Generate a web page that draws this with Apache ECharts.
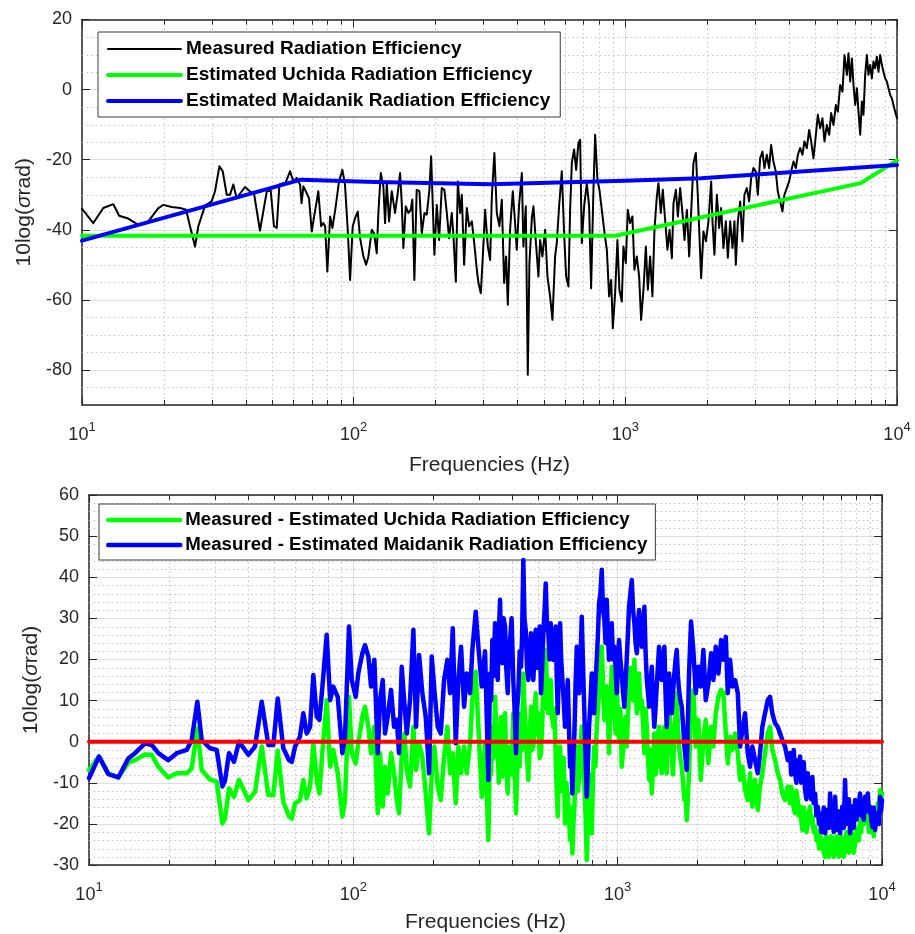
<!DOCTYPE html>
<html>
<head>
<meta charset="utf-8">
<title>Radiation efficiency</title>
<script src="https://cdn.jsdelivr.net/npm/echarts@6/dist/echarts.min.js"></script>
<style>
  html, body { margin: 0; padding: 0; background: #ffffff; }
  #chart { width: 915px; height: 934px; }
</style>
</head>
<body>
<div id="chart"></div>
<script>
// Measured radiation efficiency, [frequency (Hz), 10log(sigma_rad) (dB)]
const measured = [
  [10,-34.0],[11.0,-38.1],[11.98,-33.8],[13.04,-32.7],[13.7,-36.0],[14.69,-36.7],[16.12,-38.6],[17.54,-37.6],
  [19.1,-33.8],[19.93,-32.9],[21.4,-33.5],[22.96,-33.8],[24.15,-34.3],[24.98,-39.0],[26.07,-44.8],[26.8,-39.0],
  [28.37,-33.1],[30.0,-31.9],[30.88,-29.0],[32.04,-21.9],[32.96,-23.3],[34.1,-30.0],[35.07,-30.0],[36.06,-27.1],
  [37.1,-31.0],[39.8,-27.8],[42.15,-29.5],[42.9,-29.3],[45.2,-40.2],[47.9,-29.0],[49.5,-28.8],[50.9,-39.0],
  [52.1,-39.5],[53.3,-27.1],[55.1,-26.7],[56.1,-26.7],[58.3,-23.3],[59.2,-22.9],[60.0,-26.2],[61.7,-25.2],
  [63.5,-27.2],[64.3,-32.4],[65.3,-27.6],[67.1,-29.5],[68.5,-31.0],[70.1,-40.5],[71.7,-35.7],[73.1,-31.9],
  [74.1,-29.0],[75.9,-39.0],[77.35,-38.1],[78.5,-39.0],[80.0,-51.9],[81.9,-36.2],[83.5,-39.5],[85.9,-33.3],
  [88.3,-26.2],[90.9,-22.9],[92.9,-27.1],[95.1,-40.0],[97.0,-54.3],[99.2,-39.0],[101.2,-36.7],[103.5,-34.8],
  [105.6,-42.4],[108.6,-47.6],[111.1,-50.0],[113.3,-47.6],[116.6,-40.0],[118.9,-41.0],[121.6,-46.7],[123.3,-35.2],
  [125.8,-23.8],[128.6,-27.6],[130.5,-38.1],[132.4,-26.7],[135.0,-37.6],[138.1,-29.0],[142.0,-35.2],[145.3,-29.5],
  [148.2,-23.8],[150.3,-32.4],[152.4,-45.2],[155.5,-33.3],[159.0,-35.2],[162.2,-34.3],[164.4,-31.4],[167.3,-54.3],
  [170.6,-28.6],[174.6,-29.0],[178.1,-41.0],[182.2,-35.2],[185.8,-35.7],[190.0,-28.6],[192.8,-19.0],[195.6,-33.3],
  [198.2,-47.1],[202.3,-32.9],[206.3,-42.9],[211.0,-28.1],[215.8,-28.6],[220.2,-35.2],[224.5,-42.4],[229.7,-35.2],
  [233.0,-41.9],[237.7,-54.8],[241.8,-26.2],[246.6,-35.2],[250.1,-30.0],[255.0,-50.0],[260.9,-33.8],[266.1,-39.0],
  [272.3,-37.6],[278.3,-44.3],[284.0,-51.4],[288.0,-55.2],[293.8,-58.1],[298.8,-47.6],[304.7,-34.3],[311.8,-44.8],
  [317.9,-48.6],[322.5,-30.5],[329.6,-18.1],[336.4,-35.2],[344.0,-39.0],[351.0,-31.4],[357.9,-55.2],[364.0,-47.6],
  [369.3,-61.4],[376.5,-40.0],[385.2,-29.0],[392.8,-38.1],[398.5,-45.7],[406.4,-32.9],[415.9,-23.8],[421.5,-44.8],
  [430.1,-33.3],[437.5,-81.4],[443.6,-49.5],[452.6,-36.7],[458.9,-33.3],[468.3,-43.3],[478.7,-53.3],[485.7,-42.9],
  [495.3,-47.6],[506.7,-40.0],[516.8,-53.3],[528.5,-59.0],[539.1,-65.7],[551.4,-47.6],[559.4,-43.8],[570.5,-33.3],
  [583.6,-23.3],[595.2,-41.0],[605.3,-53.3],[617.4,-56.2],[626.3,-34.3],[635.3,-21.0],[647.8,-17.1],[659.0,-22.9],
  [671.9,-15.2],[681.7,-14.3],[691.5,-43.8],[705.2,-33.3],[721.4,-26.7],[735.7,-33.3],[748.2,-56.7],[763.1,-28.6],
  [774.2,-12.9],[789.5,-25.7],[803.0,-28.6],[819.4,-34.3],[835.6,-40.0],[854.9,-45.7],[871.8,-59.0],[886.6,-54.3],
  [899.5,-68.1],[917.1,-58.1],[935.2,-42.9],[951.1,-57.1],[970.5,-60.5],[984.0,-44.8],[1004,-49.5],[1021,-34.3],
  [1041,-38.1],[1062,-36.2],[1080,-51.4],[1102,-47.6],[1124,-53.3],[1143,-65.7],[1166,-57.1],[1190,-44.8],
  [1210,-57.1],[1234,-47.6],[1258,-59.0],[1280,-40.0],[1306,-30.5],[1324,-26.7],[1351,-35.2],[1374,-28.6],
  [1401,-37.1],[1429,-45.7],[1454,-40.0],[1484,-48.1],[1504,-32.4],[1535,-28.6],[1561,-36.2],[1591,-28.1],
  [1623,-35.2],[1651,-42.9],[1685,-34.3],[1718,-47.6],[1747,-35.2],[1781,-21.0],[1818,-18.1],[1849,-30.5],
  [1901,-53.8],[1939,-40.5],[1979,-43.3],[2023,-37.6],[2070,-26.2],[2093,-37.6],[2128,-47.1],[2172,-30.0],
  [2215,-39.5],[2252,-33.8],[2297,-45.2],[2344,-37.6],[2384,-48.0],[2432,-37.6],[2480,-45.2],[2522,-37.6],
  [2551,-50.0],[2595,-37.6],[2647,-31.9],[2698,-43.3],[2744,-30.0],[2800,-28.1],[2856,-31.9],[2905,-25.3],
  [2962,-22.4],[3023,-23.4],[3074,-30.0],[3135,-19.6],[3197,-17.7],[3251,-22.4],[3317,-18.6],[3383,-22.4],
  [3440,-15.8],[3508,-20.5],[3580,-23.4],[3641,-29.1],[3713,-31.9],[3786,-34.8],[3851,-30.0],[3929,-28.1],
  [4009,-26.2],[4077,-23.4],[4158,-20.5],[4243,-22.4],[4315,-18.6],[4400,-16.7],[4487,-18.6],[4563,-14.8],
  [4657,-16.7],[4749,-11.5],[4831,-14.8],[4926,-19.6],[5027,-12.9],[5113,-7.2],[5214,-11.0],[5316,-8.2],
  [5408,-14.8],[5518,-10.1],[5627,-12.9],[5723,-6.7],[5837,-10.1],[5957,-4.4],[6058,-6.3],[6178,1.3],
  [6300,-0.6],[6408,9.9],[6539,4.2],[6629,10.4],[6726,2.3],[6823,8.9],[6916,1.3],[7016,-4.4],
  [7118,0.4],[7215,-6.3],[7320,-12.9],[7425,-3.4],[7526,-7.2],[7636,4.2],[7746,9.9],[7852,4.2],
  [7966,7.0],[8081,3.2],[8191,8.0],[8311,6.1],[8431,9.4],[8547,5.1],[8672,9.9],[8797,7.0],
  [8917,5.1],[9046,3.2],[9177,2.3],[9302,0.4],[9437,-1.5],[9574,-2.5],[9705,-4.4],[9847,-6.3],[10000,-8.2]
];

// Estimated radiation efficiency models (breakpoints)
const uchida = [[10,-41.7],[920,-41.7],[7360,-26.7],[10000,-20.2]];
const maidanik = [[10,-43.1],[64,-25.7],[120,-26.4],[320,-27.0],[1000,-26.0],[1900,-25.3],[10000,-21.5]];

// Differences between measured and estimated efficiency (dB)
const uchidaDelta = [
  [10,-6.9],[10.91,-3.6],[11.83,-7.7],[12.91,-8.7],[14.08,-5.1],[14.93,-4.5],[16.29,-3.1],[17.27,-3.2],
  [18.29,-6.1],[19.93,-8.7],[21.47,-7.7],[23.43,-7.7],[24.46,-6.5],[25.7,3.2],[26.69,-6.9],[28.69,-9.2],
  [30.42,-9.7],[31.95,-19.9],[32.7,-18.7],[33.86,-11.4],[35.37,-13.4],[36.94,-9.3],[40.06,-14.2],[42.47,-12.2],
  [45.02,-1.2],[47.7,-13.0],[49.82,-13.0],[51.76,-2.2],[54.33,-14.6],[57.1,-18.2],
  [58.5,-18.7],[60.2,-15.0],[62.8,-14.2],[64.7,-9.3],[66.6,-13.8],[68.6,-10.9],[70.6,-0.4],[72.7,-9.3],
  [74.4,-12.6],[76.3,-2.8],[79.3,10.1],[81.7,-6.1],[84.0,-2.0],[87.3,-7.7],[90.9,-18.2],[93.0,-14.2],
  [96.3,10.9],[98.6,-2.8],[102.1,-5.3],[104.4,-0.4],[108.2,6.1],[110.7,8.5],[114.0,3.6],[116.7,-2.8],
  [120.1,3.6],[123.7,-17.4],[126.2,-2.8],[129.2,-15.8],[131.8,-6.1],[134.9,-12.6],[138.9,-2.8],[142.6,-7.7],
  [146.0,-14.2],[148.9,-17.4],[152.4,-3.6],[156.0,2.0],[159.3,-6.9],[163.9,-10.9],[168.7,3.6],[172.7,-6.9],
  [177.3,-0.4],[182.4,-3.6],[187.9,-12.6],[193.4,-22.3],[198.0,-7.7],[202.6,-1.2],[208.6,-10.9],[214.2,-14.2],
  [220.4,-3.6],[226.9,3.6],[232.3,-7.7],[237.8,-2.8],[244.0,-15.0],[249.7,-1.2],[255.6,-7.7],[262.4,-1.2],
  [268.5,-7.7],[276.4,-0.4],[282.0,10.1],[290.4,17.0],[297.2,3.6],[306.1,-13.4],[315.0,-0.4],[324.2,-23.9],
  [329,-1.2],[332,-8],[335.7,3.6],[339.5,-4],[343.6,10.9],[347.5,2],[351.8,-1.2],[355,-10],
  [358.9,2.0],[362.5,6],[366.2,-8.5],[370.5,-2],[374.9,6.9],[379,-6],[383.8,-12.6],[387.5,-4],
  [391.5,-1.2],[397,-8],[402.9,6.9],[407.5,-6],[412.5,-17.4],[416.5,-8],[420.9,0.4],[426,-6],
  [430.9,6.9],[435,-2],[439.6,16.6],[444,8],[448.9,3.6],[454,-4],[459.2,-9.3],[464.5,0],
  [470.1,8.5],[475,-2],[479.7,-1.2],[484.5,6],[489.8,11.8],[495,2],[501.0,6.9],[507,-4],
  [512.9,-2.8],[518,4],[523.3,13.4],[529,8],[534.4,22.3],[540.5,12],[546.7,6.9],[552.5,12],
  [558.3,15.0],[564.5,6],[571.1,3.6],[577,8],[583.2,-4.5],[588,-12],[593.4,-18.2],[599.5,-6],
  [605.5,-1.2],[611.5,-12],[617.8,-9.3],[625,-4],[632.4,-19.9],[640,-10],[647.5,-12.6],[654,-18],
  [660.7,-23.9],[667,-16],[674.1,-27.2],[680,-20],[686,-15.8],[693,-8],[700.4,-1.2],[707,-12],
  [714.5,-9.3],[723,-2],[731.5,3.6],[740,-4],[748.3,-10.9],[756,-18],[764.0,-28.8],[771.5,-20],
  [779.5,-14.2],[789,-8],[798.0,-22.3],[806,-10],[814.2,-1.2],[824,-6],[833.5,3.6],[842,8],
  [850.4,11.8],[860,18],[870.6,23.1],[880.5,14],[890.6,5.3],[900,10],[909.4,13.4],[918.5,6],
  [927.7,-2.8],[938.5,8],[949.7,18.2],[960.5,6],[971.6,8.5],[982,2],[992.1,15.0],[1002,6],
  [1012,0.4],[1024,8],[1036,-6.1],[1048,-2],[1060,3.6],[1071,6],[1082,-1.2],[1093,6],
  [1104,11.8],[1117,18],[1131,15.0],[1144,10],[1157,19.9],[1169,12],[1182,6.9],[1193,12],
  [1205,16.6],[1219,8],[1234,10.1],[1248,4],[1262,-2.8],[1275,8],[1289,3.6],[1302,-4],
  [1315,-9.3],[1330,-2],[1346,-12.6],[1361,-6],[1376,2.0],[1390,-8],[1405,-6.1],[1419,2],
  [1434,3.6],[1451,-4],[1468,-7.7],[1485,0],[1502,3.6],[1517,-6],[1533,-7.7],[1549,2],
  [1565,10.1],[1583,2],[1602,-2.8],[1620,-8],[1639,3.6],[1656,6],[1673,11.8],[1690,4],
  [1707,-1.2],[1727,-4],[1748,-6.1],[1768,-10],[1788,-14.2],[1807,-12],
  [1826,-19.1],[1862,-7.7],[1895,10.9],[1933,12.6],[1974,-1.2],[2020,5.3],[2062,-9.3],[2110,0.4],
  [2154,5.3],[2204,-5.3],[2257,3.6],[2302,-1.2],[2350,6.9],[2405,10.9],[2462,12.6],[2512,11.8],
  [2565,2.0],[2609,-5.3],[2662,1.2],[2716,-2.0],[2781,2.0],[2847,-2.8],[2905,-9.3],[2963,-6.1],
  [3034,-11.8],[3106,-14.2],[3169,-7.7],[3232,-15.8],[3309,-9.3],[3388,-16.6],[3456,-10.9],[3526,-7.7],
  [3610,-2.8],[3696,2.0],[3771,3.6],[3847,-2.0],[3939,-4.5],[4033,-7.7],[4115,-9.3],[4198,-12.6],
  [4298,-14.2],[4400,-10.9],
  [4489,-15.0],[4534,-11],[4580,-12.6],[4635,-16],[4690,-17.4],[4745,-12],[4801,-14.2],[4850,-18],
  [4898,-15.8],[4947,-19],[4997,-21.5],[5057,-16],[5117,-18.2],[5177,-22],[5238,-19.9],[5291,-17],
  [5344,-15.8],[5398,-20],[5452,-18.2],[5517,-22],[5582,-20.7],[5648,-24],[5715,-22.3],[5773,-26],
  [5831,-21.5],[5890,-26],[5949,-23.9],[6020,-27],[6091,-28.0],[6163,-23],[6235,-24.7],[6298,-28],
  [6362,-27.6],[6426,-23],[6491,-24.7],[6568,-28],[6645,-27.2],[6724,-23],[6803,-24.7],[6872,-28],
  [6941,-26.8],[7011,-23],[7081,-24.3],[7165,-28],[7249,-26.4],[7335,-22],[7421,-23.9],[7496,-27],
  [7571,-26.0],[7647,-22],[7724,-23.9],[7817,-27],[7910,-24.7],[8004,-21],[8098,-20.7],[8180,-24],
  [8262,-19.1],[8345,-22],[8429,-16.6],[8529,-20],[8630,-17.4],[8732,-15],[8835,-18.2],[8924,-22],
  [9014,-19.9],[9105,-17],[9196,-20.7],[9305,-23],[9414,-18.2],[9526,-20],[9638,-15.0],[9735,-17],
  [9833,-11.8],[9916,-14],[10000,-12.6]
];

const maidanikDelta = [
  [10,-8.9],[10.91,-3.6],[11.83,-7.9],[12.91,-8.7],[14.08,-4.1],[14.93,-2.8],[16.29,-0.4],[17.27,-0.8],
  [18.29,-2.8],[19.93,-4.5],[21.47,-2.8],[23.43,-2.0],[24.46,0.4],[25.7,9.7],[26.69,0.4],[28.69,-1.6],
  [30.42,-2.0],[31.95,-10.9],[32.7,-9.5],[33.86,-2.8],[35.37,-4.9],[36.94,0.0],[40.06,-3.2],[42.47,-1.2],
  [45.02,9.7],[47.7,-0.8],[49.82,-0.8],[51.76,10.5],[54.33,-1.6],[57.1,-4.5],
  [58.5,-4.9],[60.2,-1.2],[62.8,1.2],[64.7,6.9],[66.6,2.0],[68.6,3.6],[70.6,16.2],[72.7,6.1],
  [74.4,5.3],[76.3,13.0],[79.3,26.0],[81.7,10.1],[84.0,13.4],[87.3,10.9],[90.9,-2.8],[93.0,1.2],
  [96.3,28.0],[98.6,15.0],[102.1,10.9],[104.4,16.6],[108.2,21.5],[110.7,23.5],[114.0,20.7],[116.7,13.4],
  [120.1,19.9],[123.7,-2.8],[126.2,10.1],[129.2,15.0],[131.8,2.0],[134.9,6.1],[138.9,12.6],[142.6,3.6],
  [146.0,5.3],[148.9,-2.8],[152.4,18.2],[156.0,9.3],[159.3,2.0],[163.9,10.1],[168.7,27.2],[172.7,3.6],
  [177.3,21.1],[182.4,11.8],[187.9,6.1],[193.4,-7.7],[198.0,20.7],[202.6,12.6],[208.6,3.6],[214.2,2.0],
  [220.4,15.0],[226.9,19.9],[232.3,11.8],[237.8,27.6],[244.0,-0.4],[249.7,15.0],[255.6,23.1],[262.4,8.5],
  [268.5,16.6],[276.4,11.8],[282.0,22.3],[290.4,31.6],[297.2,23.1],[306.1,13.4],[315.0,22.0],[324.2,-9.3],
  [329,16.6],[332,10],[335.7,24.7],[339.5,16],[343.6,28.8],[347.5,20],[351.8,15.0],[355,26],
  [358.9,34.5],[362.5,22],[366.2,19.1],[370.5,30],[374.9,28.0],[379,18],[383.8,11.8],[387.5,22],
  [391.5,24.7],[397,30],[402.9,15.0],[407.5,8],[412.5,-2.8],[416.5,8],[420.9,11.8],[426,22],
  [430.9,18.2],[435,26],[439.6,44.2],[444,30],[448.9,27.2],[454,18],[459.2,15.0],[464.5,22],
  [470.1,26.4],[475,18],[479.7,15.0],[484.5,22],[489.8,27.2],[495,18],[501.0,21.5],[507,28],
  [512.9,11.8],[518,18],[523.3,26.4],[529,32],[534.4,38.5],[540.5,28],[546.7,26.4],[552.5,20],
  [558.3,28.8],[564.5,22],[571.1,19.9],[577,26],[583.2,28.0],[588,16],[593.4,6.9],[599.5,20],
  [605.5,28.8],[611.5,20],[617.8,15.0],[625,10],[632.4,3.6],[640,8],[647.5,15.0],[654,4],
  [660.7,-6.1],[667,-2],[674.1,-12.6],[680,-4],[686,2.0],[693,14],[700.4,23.1],[707,14],
  [714.5,11.8],[723,20],[731.5,30.4],[740,18],[748.3,6.9],[756,-4],[764.0,-13.4],[771.5,-6],
  [779.5,3.6],[789,10],[798.0,16.6],[806,10],[814.2,6.9],[824,14],[833.5,19.9],[842,26],
  [850.4,33.7],[860,36],[870.6,41.8],[880.5,32],[890.6,29.6],[900,24],[909.4,34.5],[918.5,26],
  [927.7,19.9],[938.5,24],[949.7,28.8],[960.5,20],[971.6,23.1],[982,18],[992.1,11.8],[1002,18],
  [1012,24.7],[1024,20],[1036,16.6],[1048,12],[1060,8.5],[1071,14],[1082,19.9],[1093,26],
  [1104,32.8],[1117,36],[1131,39.3],[1144,32],[1157,28.8],[1169,24],[1182,21.5],[1193,28],
  [1205,32.0],[1219,26],[1234,23.1],[1248,28],[1262,32.8],[1275,22],[1289,15.0],[1302,12],
  [1315,8.5],[1330,14],[1346,18.2],[1361,10],[1376,3.6],[1390,8],[1405,13.4],[1419,18],
  [1434,23.1],[1451,18],[1468,15.0],[1485,20],[1502,23.1],[1517,12],[1533,3.6],[1549,10],
  [1565,16.6],[1583,12],[1602,6.9],[1620,12],[1639,16.6],[1656,20],[1673,22.3],[1690,16],
  [1707,12.6],[1727,10],[1748,8.5],[1768,4],[1788,-1.2],[1807,-4],
  [1826,-6.9],[1862,16.6],[1895,29.2],[1933,22.3],[1974,11.8],[2020,18.2],[2062,13.4],[2110,22.3],
  [2154,10.1],[2204,14.2],[2257,21.5],[2302,15.0],[2350,23.1],[2405,16.6],[2462,24.7],[2512,19.9],
  [2565,25.5],[2609,11.8],[2662,19.9],[2716,13.4],[2781,15.0],[2847,11.8],[2905,-1.2],[2963,2.8],
  [3034,6.9],[3106,-2.8],[3169,-6.1],[3232,-1.2],[3309,-4.5],[3388,-7.7],[3456,-2.8],[3526,3.6],
  [3610,6.9],[3696,10.1],[3771,10.9],[3847,6.9],[3939,4.5],[4033,3.6],[4115,2.0],[4198,0.4],
  [4298,-1.2],[4400,-4.5],
  [4489,-2.8],[4534,-8],[4580,-6.1],[4635,-2],[4690,-7.7],[4745,-10],[4801,-4.5],[4850,-8],
  [4898,-3.6],[4947,-10],[4997,-9.3],[5057,-5],[5117,-11.8],[5177,-14],[5238,-7.7],[5291,-13],
  [5344,-10.9],[5398,-14],[5452,-8.6],[5517,-15],[5582,-12.6],[5648,-18],[5715,-15.8],[5773,-20],
  [5831,-17.4],[5890,-22],[5949,-20.7],[6020,-16],[6091,-22.3],[6163,-18],[6235,-16.6],[6298,-21],
  [6362,-12.6],[6426,-20],[6491,-19.1],[6568,-22],[6645,-13.4],[6724,-20],[6803,-21.5],[6872,-17],
  [6941,-22.3],[7011,-18],[7081,-15.8],[7165,-21],[7249,-9.3],[7335,-20],[7421,-18.2],[7496,-14],
  [7571,-22.3],[7647,-18],[7724,-15.8],[7817,-21],[7910,-14.2],[8004,-19],[8098,-19.1],[8180,-15],
  [8262,-12.6],[8345,-18],[8429,-15.8],[8529,-19],[8630,-13.4],[8732,-17],[8835,-12.6],[8924,-17],
  [9014,-15.8],[9105,-19],[9196,-20.7],[9305,-16],[9414,-21.5],[9526,-18],[9638,-17.4],[9735,-20],
  [9833,-13.4],[9916,-17],[10000,-14.2]
];

const zeroReference = [[10, 0], [10000, 0]];

// Axis ranges and grid subdivisions
const freqRange = [10, 10000];
const topLevelRange = [-90, 20];
const bottomLevelRange = [-30, 60];
const minorFreqs = [20,30,40,50,60,70,80,90,200,300,400,500,600,700,800,900,2000,3000,4000,5000,6000,7000,8000,9000];
const topMinorLevels = [-85,-75,-70,-65,-55,-50,-45,-35,-30,-25,-15,-10,-5,5,10,15];
const bottomMinorLevels = [-28,-26,-24,-22,-18,-16,-14,-12,-8,-6,-4,-2,2,4,6,8,12,14,16,18,
  22,24,26,28,32,34,36,38,42,44,46,48,52,54,56,58];

const FONT = "'Liberation Sans', Arial, Helvetica, sans-serif";
const INK = '#262626';
const MAJOR_GRID = '#dedede';
const MINOR_GRID = '#c2c2c2';

function freqAxis(gridIndex, position, labelMargin, nameGap) {
  const primary = position === 'bottom';
  return {
    type: 'log', logBase: 10, gridIndex, position,
    min: freqRange[0], max: freqRange[1],
    name: primary ? 'Frequencies (Hz)' : '',
    nameLocation: 'middle', nameGap: nameGap || 0,
    nameTextStyle: { fontFamily: FONT, fontSize: 21, color: INK },
    axisLine: { show: true, onZero: false, lineStyle: { color: INK, width: 1.5 } },
    axisTick: { show: true, inside: true, length: 8, lineStyle: { color: INK, width: 1 } },
    axisLabel: primary ? {
      show: true, margin: labelMargin,
      formatter: v => '{b|10}{s|' + Math.round(Math.log10(v)) + '}',
      rich: {
        b: { fontFamily: FONT, fontSize: 18, lineHeight: 18, color: INK, verticalAlign: 'bottom' },
        s: { fontFamily: FONT, fontSize: 13, lineHeight: 13, color: INK, verticalAlign: 'bottom', padding: [0, 0, 10, 0] }
      }
    } : { show: false },
    splitLine: { show: primary, lineStyle: { color: MAJOR_GRID, width: 1 } },
    minorTick: { show: false },
    minorSplitLine: { show: false }
  };
}

function levelAxis(gridIndex, position, range, interval, nameGap) {
  const primary = position === 'left';
  const axis = {
    type: 'value', gridIndex, position,
    min: range[0], max: range[1],
    name: primary ? '10log({i|σ}rad)' : '',
    nameLocation: 'middle', nameGap: nameGap || 0,
    nameTextStyle: {
      fontFamily: FONT, fontSize: 21, color: INK,
      rich: { i: { fontFamily: FONT, fontSize: 21, color: INK, fontStyle: 'italic' } }
    },
    axisLine: { show: true, onZero: false, lineStyle: { color: INK, width: 1.5 } },
    axisTick: { show: true, inside: true, length: 8, lineStyle: { color: INK, width: 1 } },
    axisLabel: primary ? {
      show: true, margin: 10, showMinLabel: range[0] % 20 === 0 || interval != null,
      fontFamily: FONT, fontSize: 18, color: INK
    } : { show: false },
    splitLine: { show: primary, lineStyle: { color: MAJOR_GRID, width: 1 } },
    minorTick: { show: false },
    minorSplitLine: { show: false }
  };
  if (interval != null) axis.interval = interval;
  return axis;
}

// Dotted minor grid at 2..9 of each decade, with short inward ticks on both frequency axes
function minorFreqGrid(axisIndex) {
  return {
    type: 'custom', xAxisIndex: axisIndex, yAxisIndex: axisIndex, silent: true, z: 1,
    data: minorFreqs.map(f => [f, 0]),
    encode: { x: 0, y: 1 },
    renderItem(params, api) {
      const cs = params.coordSys;
      const x = Math.round(api.coord([api.value(0), api.value(1)])[0]) + 0.5;
      const top = cs.y, bottom = cs.y + cs.height;
      return {
        type: 'group',
        children: [
          { type: 'line', shape: { x1: x, y1: top, x2: x, y2: bottom },
            style: { stroke: MINOR_GRID, lineWidth: 1, lineDash: [1.5, 3] } },
          { type: 'line', shape: { x1: x, y1: bottom, x2: x, y2: bottom - 5 },
            style: { stroke: INK, lineWidth: 1 } },
          { type: 'line', shape: { x1: x, y1: top, x2: x, y2: top + 5 },
            style: { stroke: INK, lineWidth: 1 } }
        ]
      };
    }
  };
}

function minorLevelGrid(axisIndex, levels) {
  return {
    type: 'custom', xAxisIndex: axisIndex, yAxisIndex: axisIndex, silent: true, z: 1,
    data: levels.map(v => [100, v]),
    encode: { x: 0, y: 1 },
    renderItem(params, api) {
      const cs = params.coordSys;
      const y = Math.round(api.coord([api.value(0), api.value(1)])[1]) + 0.5;
      return {
        type: 'line', shape: { x1: cs.x, y1: y, x2: cs.x + cs.width, y2: y },
        style: { stroke: MINOR_GRID, lineWidth: 1, lineDash: [1.5, 3] }
      };
    }
  };
}

function curve(name, data, axisIndex, color, width, z) {
  return {
    type: 'line', name, data, xAxisIndex: axisIndex, yAxisIndex: axisIndex,
    symbol: 'none', showSymbol: false, smooth: false, z,
    lineStyle: { color, width, cap: 'round', join: 'round' },
    itemStyle: { color },
    emphasis: { disabled: true }
  };
}

const legendText = size => ({ fontFamily: FONT, fontSize: size, fontWeight: 'bold', color: '#000', lineHeight: 20 });
const legendEntry = (name, width) => ({ name, lineStyle: { width }, itemStyle: { opacity: 0 } });

const option = {
  backgroundColor: '#ffffff',
  animation: false,
  grid: [
    { left: 82, top: 19.5, width: 815, height: 385.5, containLabel: false, outerBoundsMode: 'none' },
    { left: 89, top: 495, width: 793, height: 370, containLabel: false, outerBoundsMode: 'none' }
  ],
  xAxis: [
    freqAxis(0, 'bottom', 21, 50),
    freqAxis(0, 'top'),
    freqAxis(1, 'bottom', 21, 47),
    freqAxis(1, 'top')
  ],
  yAxis: [
    levelAxis(0, 'left', topLevelRange, null, 41),
    levelAxis(0, 'right', topLevelRange, null),
    levelAxis(1, 'left', bottomLevelRange, 10, 41),
    levelAxis(1, 'right', bottomLevelRange, 10)
  ],
  legend: [
    {
      orient: 'vertical', left: 98, top: 32, padding: [7, 10, 6, 8], itemGap: 6,
      itemWidth: 73, itemHeight: 14, selectedMode: false,
      backgroundColor: '#ffffff', borderColor: '#3a3a3a', borderWidth: 1,
      textStyle: legendText(19),
      data: [
        legendEntry('Measured Radiation Efficiency', 2),
        legendEntry('Estimated Uchida Radiation Efficiency', 4),
        legendEntry('Estimated Maidanik Radiation Efficiency', 4)
      ]
    },
    {
      orient: 'vertical', left: 99, top: 504, padding: [6, 8, 5, 7], itemGap: 5,
      itemWidth: 72, itemHeight: 14, selectedMode: false,
      backgroundColor: '#ffffff', borderColor: '#3a3a3a', borderWidth: 1,
      textStyle: legendText(18.7),
      data: [
        legendEntry('Measured - Estimated Uchida Radiation Efficiency', 4.5),
        legendEntry('Measured - Estimated Maidanik Radiation Efficiency', 4.5)
      ]
    }
  ],
  series: [
    minorFreqGrid(0),
    minorLevelGrid(0, topMinorLevels),
    curve('Measured Radiation Efficiency', measured, 0, '#000000', 2, 3),
    curve('Estimated Uchida Radiation Efficiency', uchida, 0, '#00ff00', 4, 4),
    curve('Estimated Maidanik Radiation Efficiency', maidanik, 0, '#0000ff', 4, 5),

    minorFreqGrid(2),
    minorLevelGrid(2, bottomMinorLevels),
    curve('Measured - Estimated Uchida Radiation Efficiency', uchidaDelta, 2, '#00ff00', 4.5, 3),
    curve('Measured - Estimated Maidanik Radiation Efficiency', maidanikDelta, 2, '#0000ff', 4.5, 4),
    curve('Zero reference', zeroReference, 2, '#ff0000', 4, 5)
  ]
};

const chart = echarts.init(document.getElementById('chart'), null, { renderer: 'canvas' });
chart.setOption(option);
</script>
</body>
</html>
